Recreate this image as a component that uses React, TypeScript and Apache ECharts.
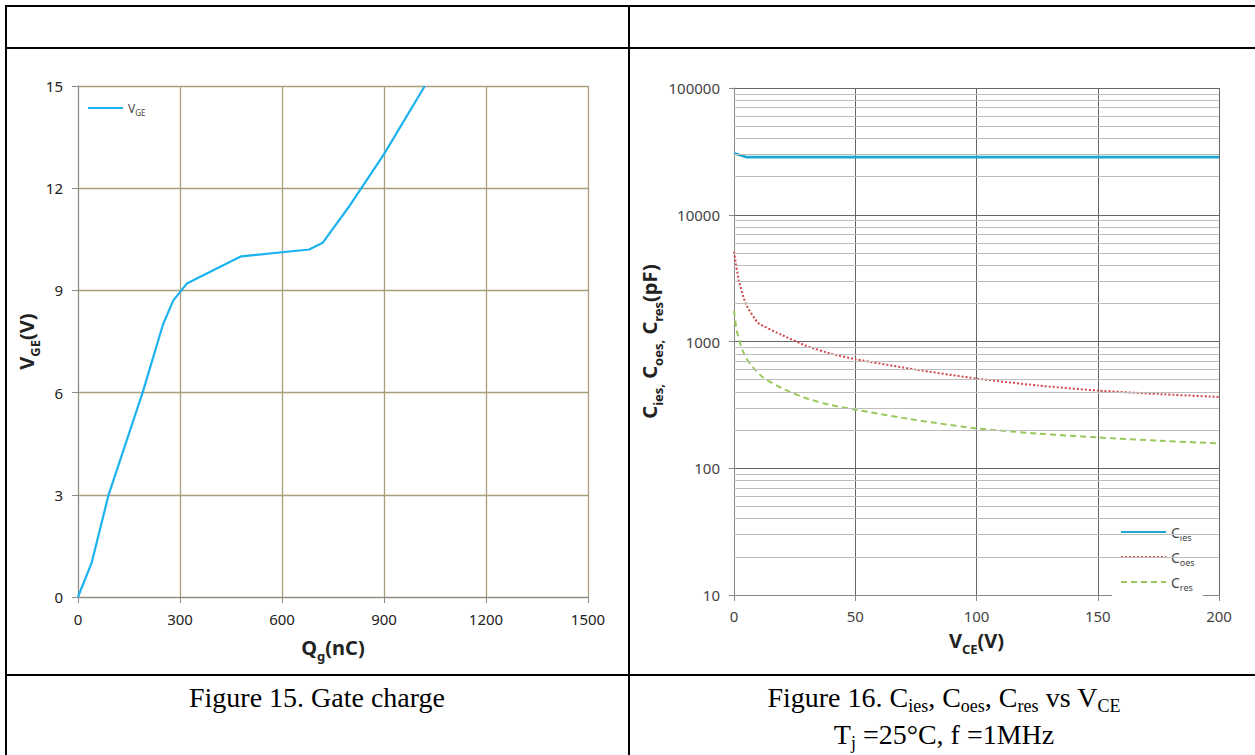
import React, { useEffect, useRef } from "react";
import * as echarts from "echarts";

// Figure 15: gate charge
const qg = [0, 40, 90, 190, 250, 280, 320, 480, 680, 720, 800, 900, 1020];
const vge = [0, 1, 3, 6, 8, 8.7, 9.2, 10, 10.2, 10.4, 11.5, 13, 15];

// Figure 16: capacitances vs VCE
const vceCies = [0, 5, 200];
const cies = [30500, 28500, 28500];
const vceCoes = [0, 2, 5, 10, 20, 30, 40, 50, 75, 100, 125, 150, 175, 200];
const coes = [5100, 3000, 1950, 1400, 1120, 920, 800, 725, 600, 510, 450, 410, 385, 365];
const vceCres = [0, 1, 3, 5, 8, 12, 20, 30, 40, 50, 75, 100, 125, 150, 175, 200];
const cres = [1750, 1250, 900, 740, 620, 520, 425, 355, 315, 290, 240, 206, 188, 175, 165, 157];

const decades = [10, 100, 1000, 10000];
const minorMult = [2, 3, 4, 5, 6, 7, 8, 9];

const pairs = (xs: number[], ys: number[]) => xs.map((x, i) => [x, ys[i]]);

export default function App() {
  const ref = useRef<HTMLDivElement>(null);
  useEffect(() => {
    if (!ref.current) return;
    const chart = echarts.init(ref.current, null, { renderer: "svg" });
    const minorLines: any[] = [];
    decades.forEach((d) => minorMult.forEach((m) => minorLines.push({ yAxis: d * m })));

    const lbl = { fontFamily: "Noto Sans", fontSize: 15, color: "#222" };
    const sub = { fontFamily: "Liberation Serif", fontSize: 18, color: "#000", verticalAlign: "bottom" as const, padding: [0, 0, -4, 0] };
    const main = { fontFamily: "Liberation Serif", fontSize: 28, color: "#000" };
    const titleRich = {
      b: { fontFamily: "Noto Sans", fontSize: 20, fontWeight: "bold", color: "#222" },
      s: { fontFamily: "Noto Sans", fontSize: 13, fontWeight: "bold", color: "#222", verticalAlign: "bottom", padding: [0, 0, -5, 0] },
    };
    const line = (x1: number, y1: number, x2: number, y2: number) => ({
      type: "line",
      shape: { x1, y1, x2, y2 },
      style: { stroke: "#000", lineWidth: 2 },
      z: 100,
    });
    const plain = (v: number) => String(v);

    chart.setOption({
      animation: false,
      backgroundColor: "#fff",
      grid: [
        { left: 78, top: 86, width: 510, height: 511 },
        { left: 734, top: 88, width: 485, height: 507 },
      ],
      legend: [
        {
          data: ["VGE"],
          left: 82,
          top: 97,
          itemWidth: 35,
          itemHeight: 14,
          itemStyle: { opacity: 0 },
          formatter: () => "{a|V}{s|GE}",
          textStyle: {
            rich: {
              a: { fontFamily: "Noto Sans", fontSize: 12, color: "#444" },
              s: { fontFamily: "Noto Sans", fontSize: 8, color: "#444", verticalAlign: "bottom", padding: [0, 0, -2, 0] },
            },
          },
        },
        {
          data: ["Cies", "Coes", "Cres"],
          orient: "vertical",
          left: 1112,
          top: 521,
          itemWidth: 45,
          itemHeight: 14,
          itemGap: 8,
          padding: [4, 8, 4, 8],
          backgroundColor: "#fff",
          itemStyle: { opacity: 0 },
          formatter: (n: string) => "{a|C}{s|" + n.slice(1) + "}",
          textStyle: {
            rich: {
              a: { fontFamily: "Noto Sans", fontSize: 14, color: "#444" },
              s: { fontFamily: "Noto Sans", fontSize: 9, color: "#444", verticalAlign: "bottom", padding: [0, 0, -3, 0] },
            },
          },
        },
      ],
      xAxis: [
        {
          gridIndex: 0,
          type: "value",
          min: 0,
          max: 1500,
          interval: 300,
          axisLine: { show: true, lineStyle: { color: "#8a8a8a" } },
          axisTick: { show: true, length: 6, lineStyle: { color: "#8a8a8a" } },
          axisLabel: { ...lbl, margin: 14, formatter: plain },
          splitLine: { show: true, lineStyle: { color: "#a89f78", width: 1.3 } },
          name: "{b|Q}{s|g}{b|(nC)}",
          nameLocation: "middle",
          nameGap: 40,
          nameTextStyle: { rich: titleRich },
        },
        {
          gridIndex: 1,
          type: "value",
          min: 0,
          max: 200,
          interval: 50,
          axisLine: { show: true, lineStyle: { color: "#888" } },
          axisTick: { show: true, length: 6, lineStyle: { color: "#888" } },
          axisLabel: { ...lbl, color: "#444", margin: 13, formatter: plain },
          splitLine: { show: true, lineStyle: { color: "#666", width: 1 } },
          name: "{b|V}{s|CE}{b|(V)}",
          nameLocation: "middle",
          nameGap: 35,
          nameTextStyle: { rich: titleRich },
        },
      ],
      yAxis: [
        {
          gridIndex: 0,
          type: "value",
          min: 0,
          max: 15,
          interval: 3,
          axisLine: { show: true, lineStyle: { color: "#8a8a8a" } },
          axisTick: { show: true, length: 6, lineStyle: { color: "#8a8a8a" } },
          axisLabel: { ...lbl, margin: 15, formatter: plain },
          splitLine: { show: true, lineStyle: { color: "#a89f78", width: 1.3 } },
          name: "{b|V}{s|GE}{b|(V)}",
          nameLocation: "middle",
          nameGap: 32,
          nameTextStyle: { rich: titleRich },
        },
        {
          gridIndex: 1,
          type: "log",
          logBase: 10,
          min: 10,
          max: 100000,
          axisLine: { show: true, lineStyle: { color: "#888" } },
          axisTick: { show: true, length: 5, lineStyle: { color: "#888" } },
          axisLabel: { ...lbl, color: "#444", margin: 14, formatter: plain },
          splitLine: { show: true, lineStyle: { color: "#666", width: 1 } },
          name: "{b|C}{s|ies,}{b| C}{s|oes,}{b| C}{s|res}{b|(pF)}",
          nameLocation: "middle",
          nameGap: 60,
          nameTextStyle: { rich: titleRich },
        },
      ],
      series: [
        {
          name: "VGE",
          type: "line",
          xAxisIndex: 0,
          yAxisIndex: 0,
          data: pairs(qg, vge),
          showSymbol: false,
          symbol: "none",
          lineStyle: { color: "#1cb2ef", width: 2.2 },
          itemStyle: { color: "#1cb2ef" },
          z: 3,
        },
        {
          name: "minor",
          type: "line",
          xAxisIndex: 1,
          yAxisIndex: 1,
          data: [],
          z: 1,
          markLine: {
            silent: true,
            symbol: "none",
            label: { show: false },
            lineStyle: { color: "#bdbdbd", width: 1, type: "solid" },
            data: minorLines,
          },
        },
        {
          name: "Cies",
          type: "line",
          xAxisIndex: 1,
          yAxisIndex: 1,
          data: pairs(vceCies, cies),
          showSymbol: false,
          symbol: "none",
          lineStyle: { color: "#1fa6d2", width: 2.6 },
          itemStyle: { color: "#1fa6d2" },
          z: 3,
        },
        {
          name: "Coes",
          type: "line",
          xAxisIndex: 1,
          yAxisIndex: 1,
          data: pairs(vceCoes, coes),
          showSymbol: false,
          symbol: "none",
          smooth: 0.15,
          lineStyle: { color: "#d24848", width: 2, type: "dotted" },
          itemStyle: { color: "#d24848" },
          z: 3,
        },
        {
          name: "Cres",
          type: "line",
          xAxisIndex: 1,
          yAxisIndex: 1,
          data: pairs(vceCres, cres),
          showSymbol: false,
          symbol: "none",
          smooth: 0.15,
          lineStyle: { color: "#98c95a", width: 2, type: [6, 4] },
          itemStyle: { color: "#98c95a" },
          z: 3,
        },
      ],
      graphic: [
        line(5, 6, 1255, 6),
        line(5, 48, 1255, 48),
        line(5, 675, 1255, 675),
        line(6, 5, 6, 755),
        line(629, 5, 629, 755),
        {
          type: "text",
          x: 317,
          y: 697,
          style: { text: "Figure 15. Gate charge", ...main, textAlign: "center", textVerticalAlign: "middle", fill: "#000" },
        },
        {
          type: "text",
          x: 944,
          y: 697,
          style: {
            text: "{m|Figure 16. C}{s|ies}{m|, C}{s|oes}{m|, C}{s|res}{m| vs V}{s|CE}",
            rich: { m: main, s: sub },
            textAlign: "center",
            textVerticalAlign: "middle",
          },
        },
        {
          type: "text",
          x: 944,
          y: 734,
          style: {
            text: "{m|T}{s|j}{m| =25°C, f =1MHz}",
            rich: { m: main, s: sub },
            textAlign: "center",
            textVerticalAlign: "middle",
          },
        },
      ],
    });
    return () => chart.dispose();
  }, []);
  return (
    <div
      ref={ref}
      style={{ position: "fixed", left: 0, top: 0, width: 1255, height: 755, background: "#fff" }}
    />
  );
}
